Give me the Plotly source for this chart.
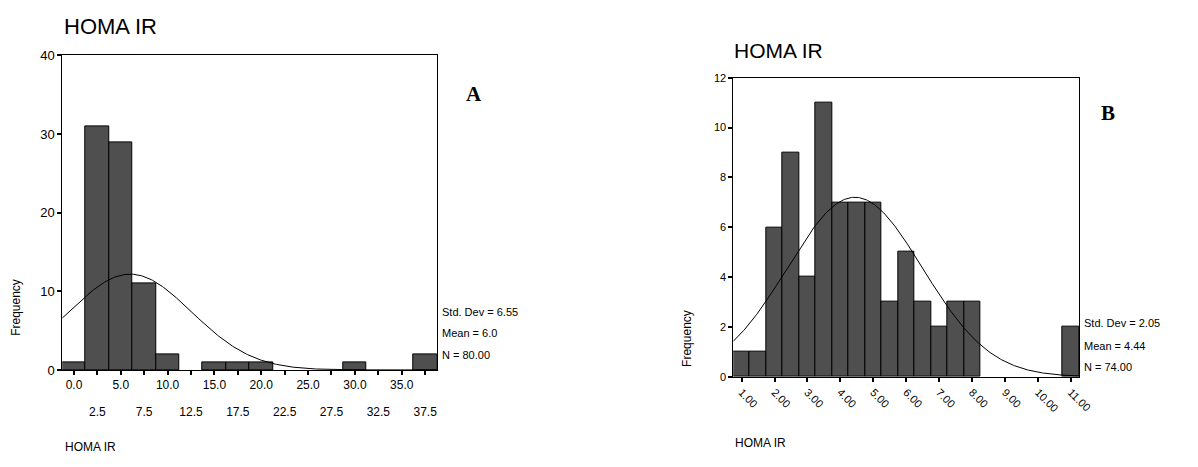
import numpy as np
import plotly.graph_objects as go

W, H = 1198, 467

# ---------------- data ----------------
a_bins = [0.0, 2.5, 5.0, 7.5, 10.0, 12.5, 15.0, 17.5, 20.0, 22.5, 25.0, 27.5, 30.0, 32.5, 35.0, 37.5]
a_counts = [1, 31, 29, 11, 2, 0, 1, 1, 1, 0, 0, 0, 1, 0, 0, 2]
a_width = 2.5
a_mean, a_sd, a_n = 6.0, 6.55, 80
a_tick_row1 = [0.0, 5.0, 10.0, 15.0, 20.0, 25.0, 30.0, 35.0]
a_tick_row2 = [2.5, 7.5, 12.5, 17.5, 22.5, 27.5, 32.5, 37.5]
a_stats = ["Std. Dev = 6.55", "Mean = 6.0", "N = 80.00"]

b_bins = [1.0, 1.5, 2.0, 2.5, 3.0, 3.5, 4.0, 4.5, 5.0, 5.5, 6.0, 6.5, 7.0, 7.5, 8.0,
          8.5, 9.0, 9.5, 10.0, 10.5, 11.0]
b_counts = [1, 1, 6, 9, 4, 11, 7, 7, 7, 3, 5, 3, 2, 3, 3, 0, 0, 0, 0, 0, 2]
b_width = 0.5
b_mean, b_sd, b_n = 4.44, 2.05, 74
b_ticks = [1, 2, 3, 4, 5, 6, 7, 8, 9, 10, 11]
b_ticktext = ["1.00", "2.00", "3.00", "4.00", "5.00", "6.00", "7.00", "8.00", "9.00", "10.00", "11.00"]
b_stats = ["Std. Dev = 2.05", "Mean = 4.44", "N = 74.00"]

FONT = "Liberation Sans"
BAR = "#4f4f4f"


def px(x):
    return x / W


def py(y):
    return 1 - y / H


def normal_curve(lo, hi, mean, sd, n, width):
    xs = np.linspace(lo, hi, 300)
    ys = n * width / (sd * np.sqrt(2 * np.pi)) * np.exp(-0.5 * ((xs - mean) / sd) ** 2)
    return xs, ys


def nonzero(bins, counts):
    pairs = [(b, c) for b, c in zip(bins, counts) if c > 0]
    return [p[0] for p in pairs], [p[1] for p in pairs]


fig = go.Figure()

# panel A
xa, ya = nonzero(a_bins, a_counts)
fig.add_trace(go.Bar(x=xa, y=ya, width=a_width, marker=dict(color=BAR, line=dict(color="black", width=1)),
                     xaxis="x", yaxis="y", showlegend=False, hoverinfo="skip"))
ax_lo, ax_hi = a_bins[0] - a_width / 2, a_bins[-1] + a_width / 2
cx, cy = normal_curve(ax_lo, ax_hi, a_mean, a_sd, a_n, a_width)
fig.add_trace(go.Scatter(x=cx, y=cy, mode="lines", line=dict(color="black", width=1),
                         xaxis="x", yaxis="y", showlegend=False, hoverinfo="skip"))
fig.add_trace(go.Scatter(x=[None], y=[None], xaxis="x3", yaxis="y", showlegend=False, hoverinfo="skip"))

# panel B
xb, yb = nonzero(b_bins, b_counts)
fig.add_trace(go.Bar(x=xb, y=yb, width=b_width, marker=dict(color=BAR, line=dict(color="black", width=1)),
                     xaxis="x2", yaxis="y2", showlegend=False, hoverinfo="skip"))
bx_lo, bx_hi = b_bins[0] - b_width / 2, b_bins[-1] + b_width / 2
cx, cy = normal_curve(bx_lo, bx_hi, b_mean, b_sd, b_n, b_width)
fig.add_trace(go.Scatter(x=cx, y=cy, mode="lines", line=dict(color="black", width=1),
                         xaxis="x2", yaxis="y2", showlegend=False, hoverinfo="skip"))

axis_common = dict(showgrid=False, zeroline=False, showline=True, linecolor="black", linewidth=1,
                   ticks="outside", ticklen=4, tickcolor="black", tickwidth=2, mirror=True)

fig.update_layout(
    width=W, height=H, margin=dict(l=0, r=0, t=0, b=0),
    paper_bgcolor="white", plot_bgcolor="white",
    barmode="overlay", bargap=0,
    font=dict(family=FONT, color="black", size=11),
    xaxis=dict(domain=[px(63), px(442)], range=[ax_lo, ax_hi], anchor="y",
               tickvals=a_tick_row1, ticktext=[f"{v:.1f}" for v in a_tick_row1],
               tickfont=dict(size=12), **axis_common),
    xaxis3=dict(overlaying="x", matches="x", anchor="y", side="bottom",
                tickvals=a_tick_row2, ticktext=[f"{v:.1f}" for v in a_tick_row2],
                tickfont=dict(size=12), showgrid=False, zeroline=False, showline=False,
                ticks="outside", ticklen=4, tickcolor="black", tickwidth=2, ticklabelstandoff=27),
    yaxis=dict(domain=[py(375), py(50)], range=[0, 40], anchor="x",
               tickvals=[0, 10, 20, 30, 40], tickfont=dict(size=13), **axis_common),
    xaxis2=dict(domain=[px(742), px(1092)], range=[bx_lo, bx_hi], anchor="y2",
                tickvals=b_ticks, ticktext=b_ticktext, tickangle=45,
                tickfont=dict(size=11), **axis_common),
    yaxis2=dict(domain=[py(382), py(73)], range=[0, 12], anchor="x2",
                tickvals=[0, 2, 4, 6, 8, 10, 12], tickfont=dict(size=11), **axis_common),
)

ann = []
# titles
ann.append(dict(text="HOMA IR", x=px(63), y=py(20), xanchor="left", yanchor="middle",
                font=dict(size=22)))
ann.append(dict(text="HOMA IR", x=px(741), y=py(45), xanchor="left", yanchor="middle",
                font=dict(size=21)))
# panel letters
ann.append(dict(text="<b>A</b>", x=px(469), y=py(90), xanchor="left", yanchor="middle",
                font=dict(family="Liberation Serif", size=21)))
ann.append(dict(text="<b>B</b>", x=px(1112), y=py(110), xanchor="left", yanchor="middle",
                font=dict(family="Liberation Serif", size=21)))
# y titles
ann.append(dict(text="Frequency", x=px(16), y=py(310), textangle=-90, xanchor="center", yanchor="middle",
                font=dict(size=12)))
ann.append(dict(text="Frequency", x=px(695), y=py(342), textangle=-90, xanchor="center", yanchor="middle",
                font=dict(size=12)))
# x titles
ann.append(dict(text="HOMA IR", x=px(64), y=py(455), xanchor="left", yanchor="middle", font=dict(size=12)))
ann.append(dict(text="HOMA IR", x=px(742), y=py(450), xanchor="left", yanchor="middle", font=dict(size=12)))
# stats
for s, yy in zip(a_stats, [315, 337, 360]):
    ann.append(dict(text=s, x=px(445), y=py(yy), xanchor="left", yanchor="middle", font=dict(size=11)))
for s, yy in zip(b_stats, [327, 350, 372]):
    ann.append(dict(text=s, x=px(1095), y=py(yy), xanchor="left", yanchor="middle", font=dict(size=11)))

for a in ann:
    a.update(xref="paper", yref="paper", showarrow=False)
fig.update_layout(annotations=ann)

fig.write_html("out.html")
